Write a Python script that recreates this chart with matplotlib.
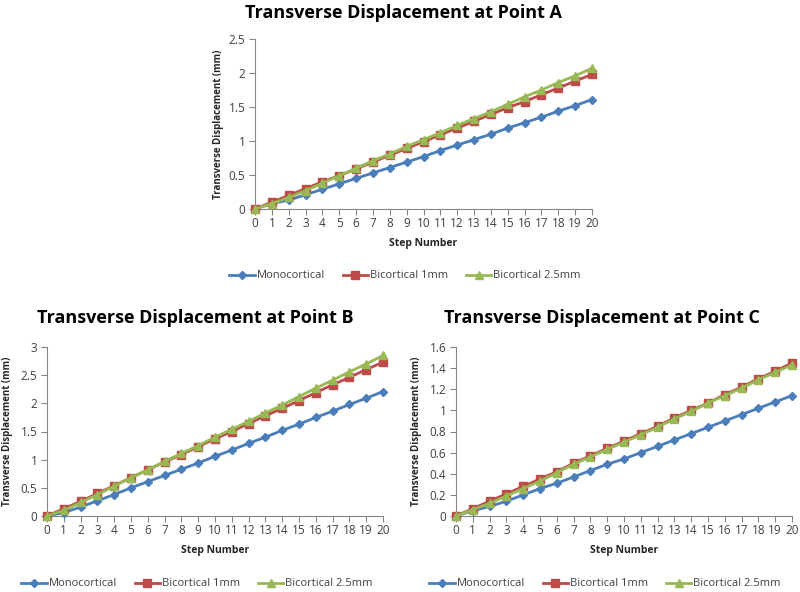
import matplotlib
matplotlib.use("Agg")
import matplotlib.pyplot as plt
from matplotlib.lines import Line2D

plt.rcParams['font.family'] = ['Open Sans', 'DejaVu Sans']

steps = list(range(21))
series_names = ["Monocortical", "Bicortical 1mm", "Bicortical 2.5mm"]

a_mono = [0, 0.08, 0.13, 0.21, 0.29, 0.37, 0.45, 0.53, 0.61, 0.69, 0.77, 0.86, 0.94, 1.02, 1.10, 1.19, 1.27, 1.35, 1.44, 1.52, 1.61]
a_bi1 = [0, 0.10, 0.20, 0.30, 0.40, 0.49, 0.59, 0.69, 0.79, 0.89, 0.99, 1.09, 1.19, 1.29, 1.39, 1.49, 1.58, 1.68, 1.78, 1.88, 1.98]
a_bi25 = [0, 0.08, 0.17, 0.27, 0.38, 0.49, 0.60, 0.71, 0.81, 0.92, 1.02, 1.12, 1.23, 1.33, 1.43, 1.54, 1.65, 1.75, 1.86, 1.96, 2.07]

b_mono = [0, 0.06, 0.16, 0.27, 0.38, 0.50, 0.61, 0.72, 0.83, 0.94, 1.06, 1.17, 1.29, 1.40, 1.52, 1.63, 1.75, 1.86, 1.98, 2.09, 2.21]
b_bi1 = [0, 0.13, 0.26, 0.40, 0.54, 0.68, 0.82, 0.96, 1.09, 1.23, 1.37, 1.50, 1.64, 1.78, 1.91, 2.05, 2.19, 2.33, 2.46, 2.60, 2.73]
b_bi25 = [0, 0.10, 0.24, 0.38, 0.53, 0.68, 0.82, 0.97, 1.11, 1.25, 1.40, 1.54, 1.68, 1.83, 1.97, 2.12, 2.27, 2.41, 2.56, 2.70, 2.85]

c_mono = [0, 0.05, 0.09, 0.14, 0.20, 0.26, 0.31, 0.37, 0.43, 0.49, 0.54, 0.60, 0.66, 0.72, 0.78, 0.84, 0.90, 0.96, 1.02, 1.08, 1.14]
c_bi1 = [0, 0.07, 0.14, 0.21, 0.28, 0.35, 0.42, 0.50, 0.57, 0.64, 0.71, 0.78, 0.85, 0.93, 1.00, 1.07, 1.15, 1.22, 1.30, 1.37, 1.45]
c_bi25 = [0, 0.06, 0.12, 0.19, 0.26, 0.33, 0.41, 0.49, 0.56, 0.63, 0.70, 0.77, 0.84, 0.92, 0.99, 1.07, 1.14, 1.21, 1.29, 1.36, 1.43]

a_yticks = [0, 0.5, 1, 1.5, 2, 2.5]
b_yticks = [0, 0.5, 1, 1.5, 2, 2.5, 3]
c_yticks = [0, 0.2, 0.4, 0.6, 0.8, 1, 1.2, 1.4, 1.6]

colors = ["#4A7EBB", "#BE4B48", "#98B954"]
markers = ["D", "s", "^"]
msizes = [4.5, 5.5, 6]

W, H = 800, 592
fig = plt.figure(figsize=(W / 100, H / 100), dpi=100)


def px_axes(l, r, t, b):
    return fig.add_axes([l / W, 1 - b / H, (r - l) / W, (b - t) / H])


def panel(bounds, data, yticks, title, title_xy, ylab_x, xlab_y, leg_xy):
    l, r, t, b = bounds
    ax = px_axes(l, r, t, b)
    for vals, c, m, ms in zip(data, colors, markers, msizes):
        ax.plot(steps, vals, color=c, lw=2, marker=m, ms=ms, mec=c, mfc=c, clip_on=False, zorder=3)
    ax.set_xlim(0, 20)
    ax.set_ylim(yticks[0], yticks[-1])
    ax.set_xticks(steps)
    ax.set_yticks(yticks)
    ax.set_yticklabels([f"{v:g}" for v in yticks])
    for s in ["top", "right"]:
        ax.spines[s].set_visible(False)
    for s in ["left", "bottom"]:
        ax.spines[s].set_color("#868686")
        ax.spines[s].set_linewidth(0.8)
    ax.tick_params(axis="both", colors="#868686", labelcolor="#404040", labelsize=8.5, length=4, width=0.8)
    ax.tick_params(axis="x", pad=2)
    ax.tick_params(axis="y", pad=3)
    fig.text(title_xy[0] / W, 1 - title_xy[1] / H, title, ha="center", va="center",
             fontsize=13, fontweight="bold", color="black")
    fig.text(ylab_x / W, 1 - (t + b) / 2 / H, "Transverse Displacement (mm)", rotation=90,
             ha="center", va="center", fontsize=7, fontweight="bold", color="#262626")
    fig.text((l + r) / 2 / W, 1 - xlab_y / H, "Step Number", ha="center", va="center",
             fontsize=7.5, fontweight="bold", color="#262626")
    handles = [Line2D([0], [0], color=c, lw=2, marker=m, ms=ms, mec=c, mfc=c)
               for c, m, ms in zip(colors, markers, msizes)]
    fig.legend(handles, series_names, loc="center", bbox_to_anchor=(leg_xy[0] / W, 1 - leg_xy[1] / H),
               ncol=3, frameon=False, fontsize=8, handlelength=2.3, handletextpad=0.15,
               columnspacing=1.6, labelcolor="#404040")
    return ax


panel((255, 592, 39, 209), [a_mono, a_bi1, a_bi25], a_yticks,
      "Transverse Displacement at Point A", (403, 13), 218, 243, (405, 276))
panel((47, 383, 347, 516), [b_mono, b_bi1, b_bi25], b_yticks,
      "Transverse Displacement at Point B", (195, 318), 8, 550, (197, 584))
panel((456, 792, 347, 516), [c_mono, c_bi1, c_bi25], c_yticks,
      "Transverse Displacement at Point C", (602, 318), 417, 550, (605, 584))

fig.savefig("out.png", dpi=100, facecolor="white")
